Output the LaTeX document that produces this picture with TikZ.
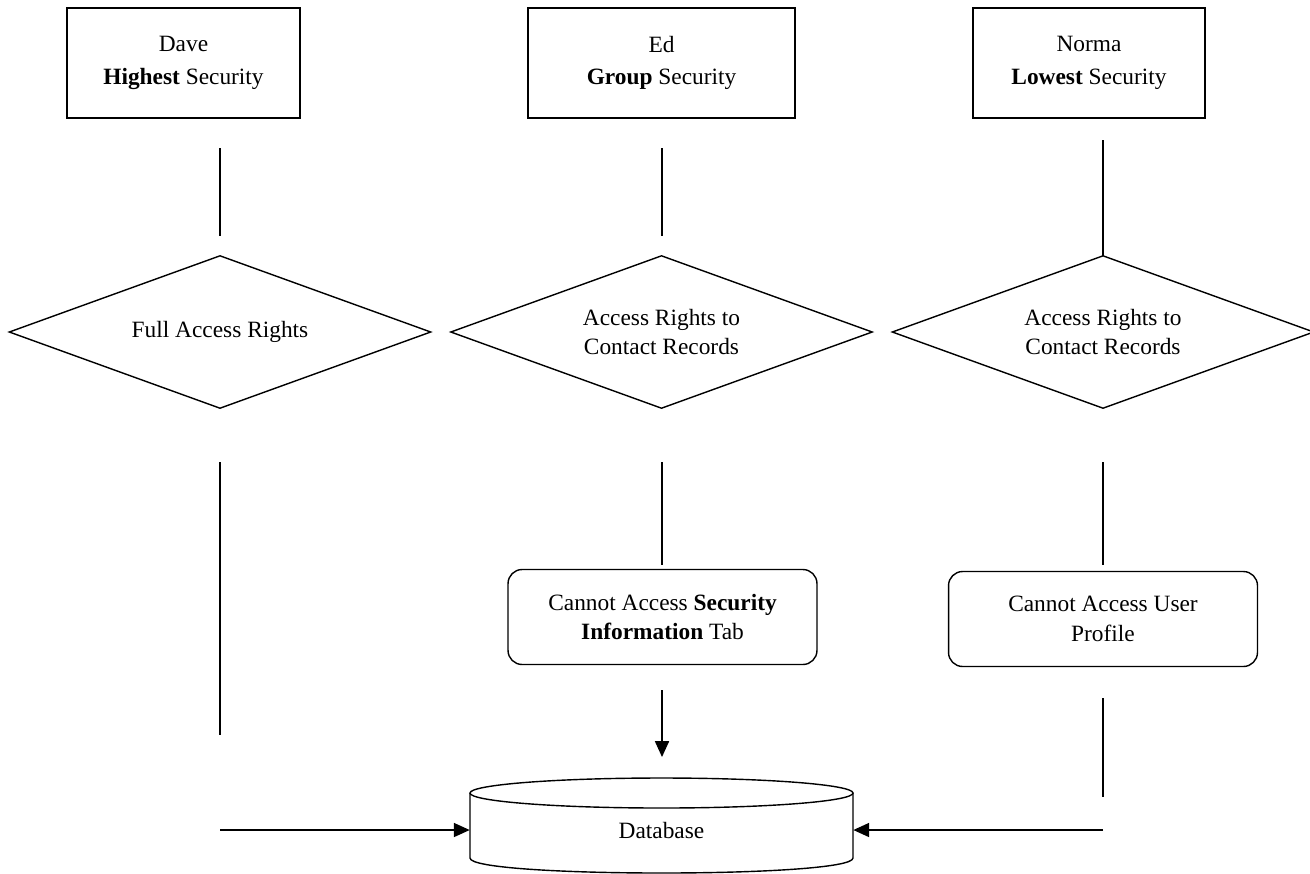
\documentclass[tikz,border=0pt]{standalone}
\usepackage{fontspec}
\setmainfont{Liberation Serif}
\usetikzlibrary{shapes.geometric,arrows.meta}

\tikzset{
  box/.style={rectangle, draw, line width=0.9pt, minimum height=2.2cm, align=center, inner sep=0pt, font=\fontsize{13.3}{18.5}\selectfont},
  rights/.style={diamond, draw, line width=0.8pt, shape aspect=2.77, minimum width=8.44cm, minimum height=3.06cm, align=center, inner sep=0pt},
  limit/.style={rectangle, rounded corners=8pt, draw, line width=0.8pt, minimum width=6.18cm, minimum height=1.9cm, align=center, inner sep=0pt},
  link/.style={line width=0.8pt},
  flow/.style={line width=0.8pt, -{Triangle[length=9pt,width=8pt]}}
}

\begin{document}
\begin{tikzpicture}[x=0.02cm, y=-0.02cm, font=\fontsize{13.3}{17}\selectfont]
\useasboundingbox (0,0) rectangle (1310,873);

% users
\node[box, minimum width=4.66cm] (dave) at (183.5,63) {Dave\\\textbf{Highest} Security};
\node[box, minimum width=5.34cm] (ed) at (661.5,63) {Ed\\\textbf{Group} Security};
\node[box, minimum width=4.64cm] (norma) at (1089,63) {Norma\\\textbf{Lowest} Security};

% rights
\node[rights] (fullrights) at (220,332) {Full Access Rights};
\node[rights] (edrights) at (661.5,332) {Access Rights to\\Contact Records};
\node[rights] (normarights) at (1103,332) {Access Rights to\\Contact Records};

% limits
\node[limit] (edlimit) at (662.5,617) {Cannot Access \textbf{Security}\\\textbf{Information} Tab};
\node[limit] (normalimit) at (1103,619) {Cannot Access User\\Profile};

% database
\draw[line width=0.8pt] (661.5,793) ellipse (191.5 and 15);
\draw[line width=0.8pt] (470,793) -- (470,858) .. controls (470,878) and (853,878) .. (853,858) -- (853,793);
\node[minimum width=7.66cm, inner sep=0pt] (db) at (661.5,830) {Database};

% free ends
\coordinate (d1) at (220,148);
\coordinate (d2) at (220,236);
\coordinate (d3) at (220,462);
\coordinate (d4) at (220,735);
\coordinate (d5) at (220,830);
\coordinate (e1) at (662,148);
\coordinate (e2) at (662,236);
\coordinate (e3) at (662,462);
\coordinate (e4) at (662,565);
\coordinate (e5) at (662,690);
\coordinate (e6) at (662,757);
\coordinate (n1) at (1103,140);
\coordinate (n2) at (1103,256);
\coordinate (n3) at (1103,462);
\coordinate (n4) at (1103,565);
\coordinate (n5) at (1103,698);
\coordinate (n6) at (1103,797);
\coordinate (n7) at (1103,830);

\draw[link] (d1) -- (d2);
\draw[link] (d3) -- (d4);
\draw[link] (e1) -- (e2);
\draw[link] (e3) -- (e4);
\draw[link] (n1) -- (n2);
\draw[link] (n3) -- (n4);
\draw[link] (n5) -- (n6);

\draw[flow] (e5) -- (e6);
\draw[flow] (d5) -- (db.west);
\draw[flow] (n7) -- (db.east);
\end{tikzpicture}
\end{document}
